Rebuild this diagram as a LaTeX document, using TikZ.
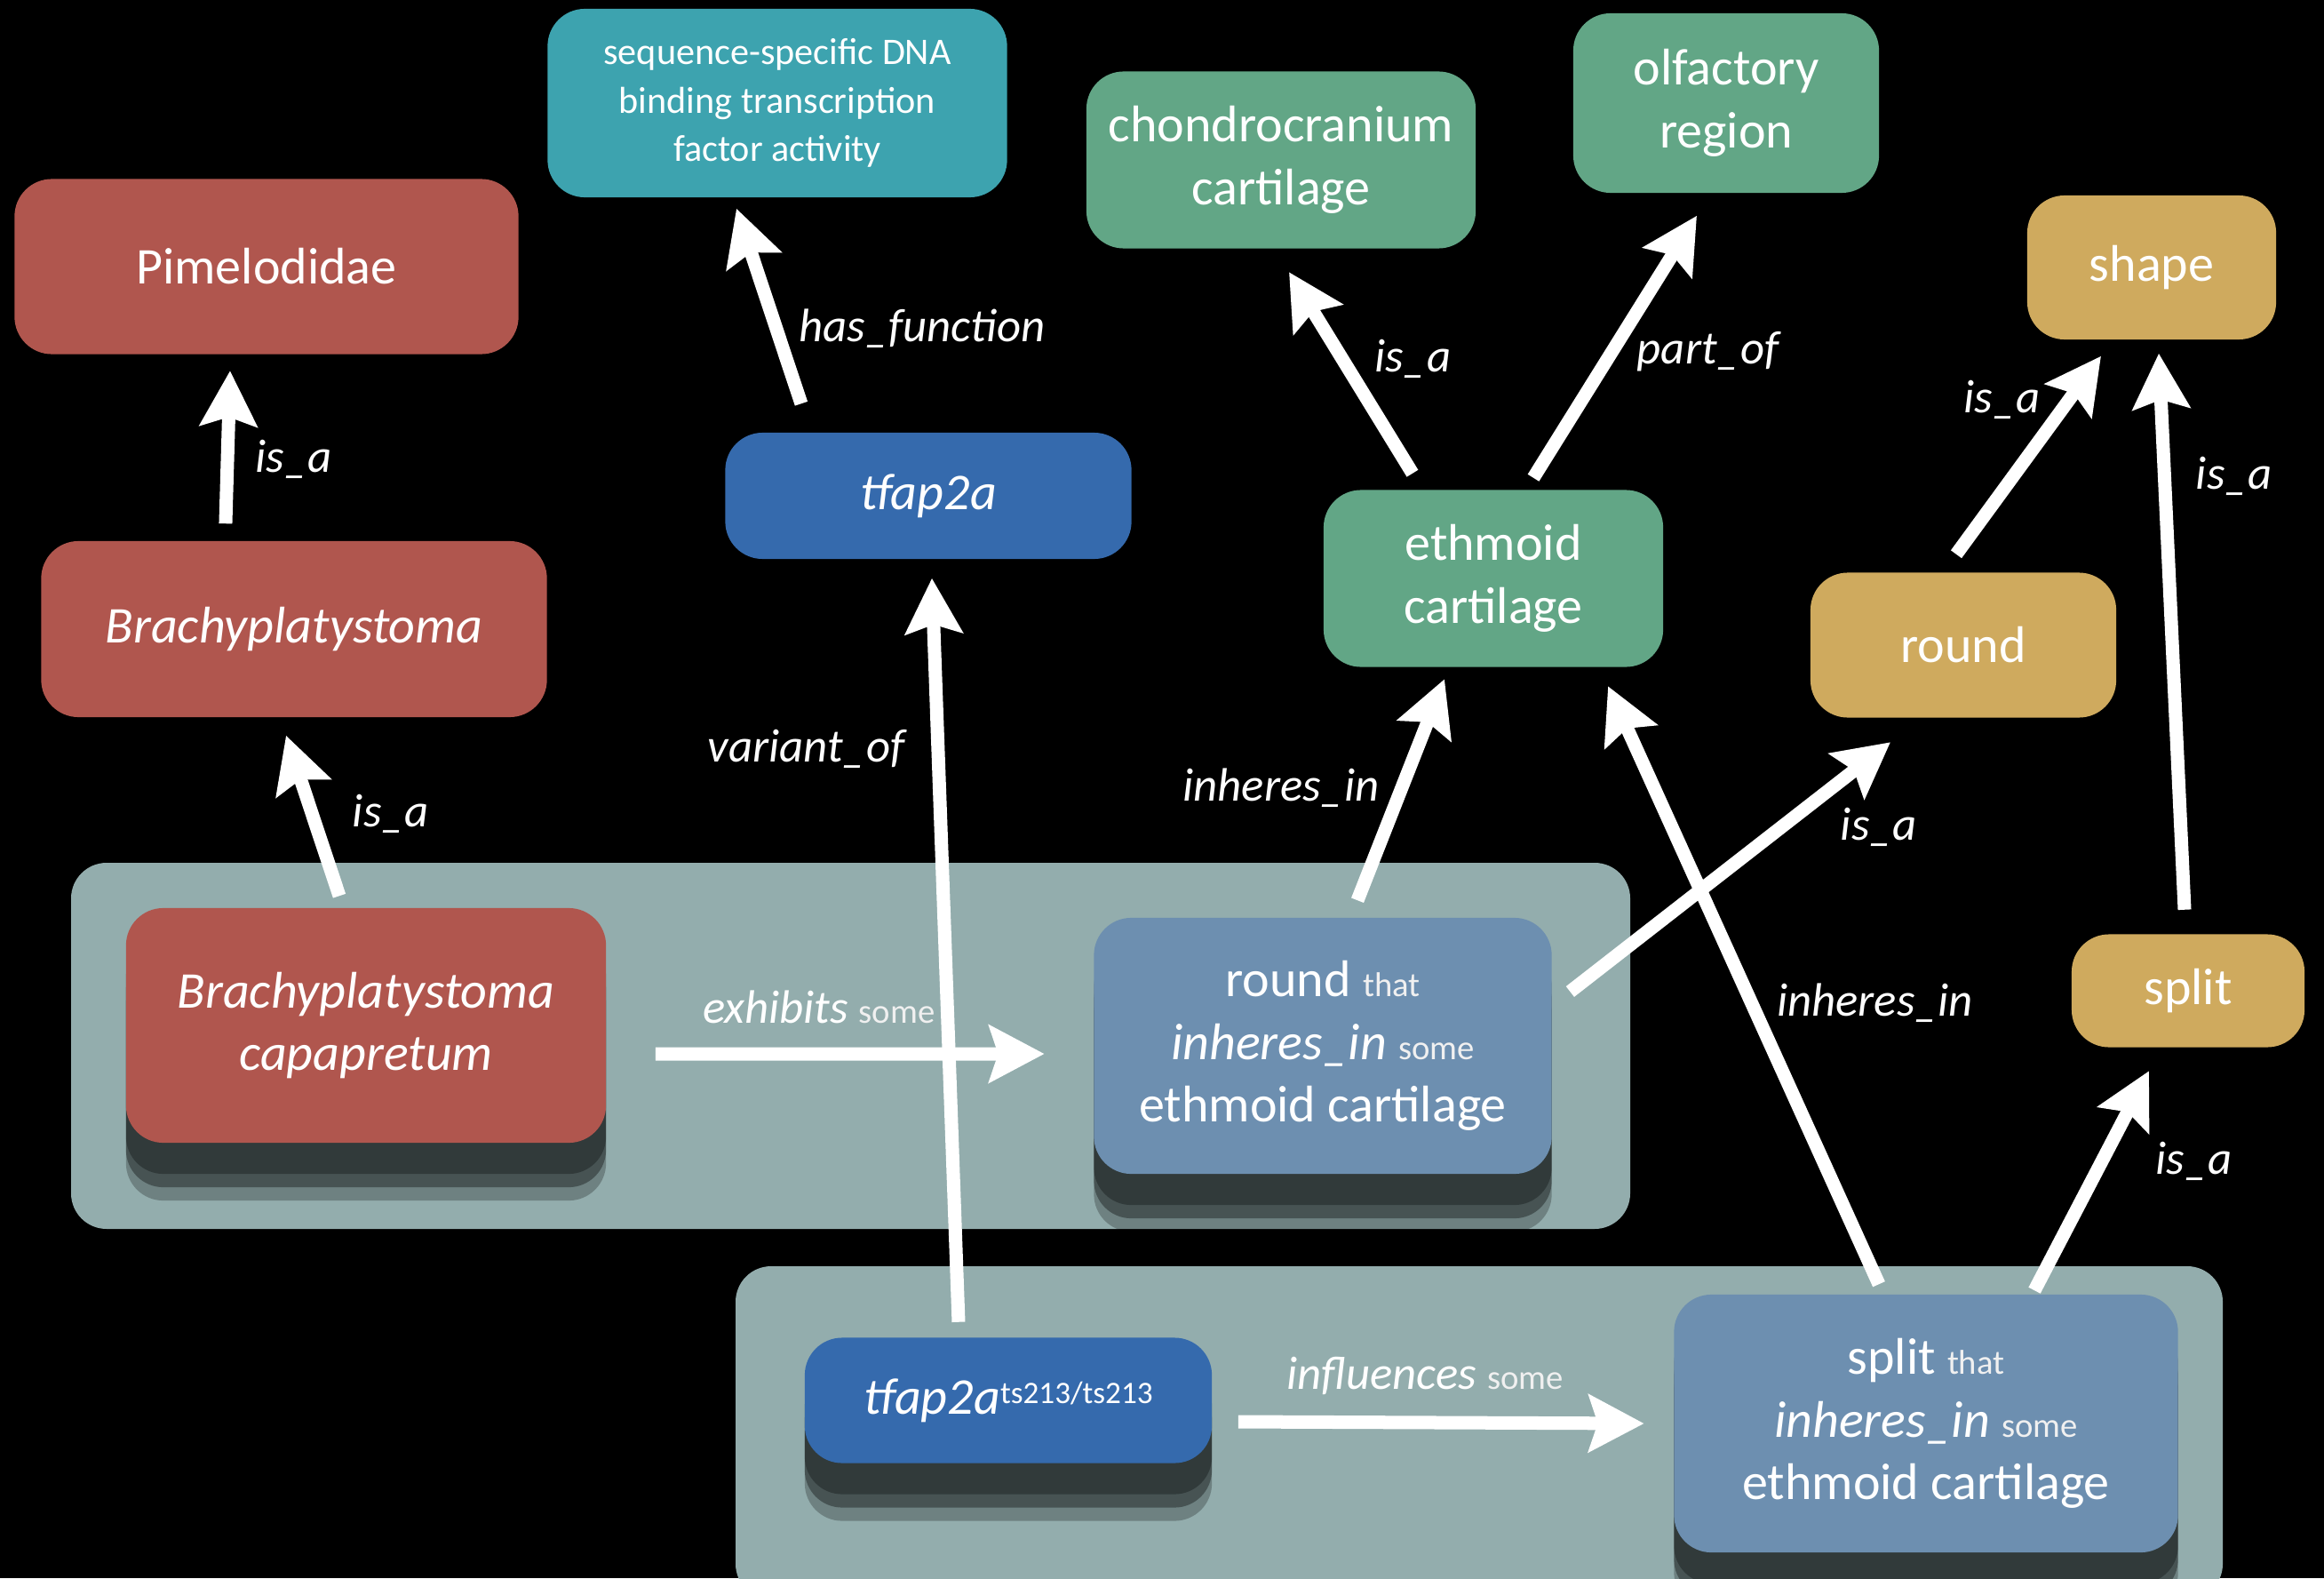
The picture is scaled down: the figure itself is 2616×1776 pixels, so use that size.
\documentclass[tikz,border=0pt]{standalone}
\usepackage{fontspec}
\setmainfont{Carlito}
\usetikzlibrary{arrows.meta}
\usetikzlibrary{shadows}

\definecolor{fishred}{HTML}{B0564E}
\definecolor{functeal}{HTML}{3DA3AF}
\definecolor{geneblue}{HTML}{356AAD}
\definecolor{anatgreen}{HTML}{62A686}
\definecolor{qualgold}{HTML}{CFAA5E}
\definecolor{phenoblue}{HTML}{6D8FB0}
\definecolor{panelgray}{HTML}{93ADAD}

\newcommand{\weakword}[1]{{\upshape\fontsize{11}{13}\selectfont\color{white!88!gray}#1}}

\tikzset{
  term/.style={rounded corners=.42cm, text=white, align=center, inner sep=2pt,
    font=\fontsize{16.5}{20}\selectfont,
    drop shadow={shadow xshift=0cm, shadow yshift=-.35cm, opacity=.3, fill=black},
    drop shadow={shadow xshift=0cm, shadow yshift=-.5cm, opacity=.35, fill=black},
    drop shadow={shadow xshift=0cm, shadow yshift=-.65cm, opacity=.25, fill=black}},
  fish/.style={term, fill=fishred},
  func/.style={term, fill=functeal},
  gene/.style={term, fill=geneblue},
  anat/.style={term, fill=anatgreen},
  qual/.style={term, fill=qualgold},
  pheno/.style={term, fill=phenoblue},
  rel/.style={white, line width=.15cm, ->, >={Stealth[length=.62cm, width=.64cm, inset=.1cm]}},
  lbl/.style={text=white, inner sep=0pt, font=\fontsize{15}{18}\selectfont\itshape},
}

\begin{document}
\begin{tikzpicture}[x=.01cm, y=-.01cm]
\useasboundingbox (0,0) rectangle (2616,1776);
\fill[black] (0,0) rectangle (2616,1776);
% the two grouped boxes
\fill[panelgray, rounded corners=.4cm] (80,971) rectangle (1835,1383);
\fill[panelgray, rounded corners=.4cm] (828,1425) rectangle (2502,1800);

\node[fish, minimum width=5.67cm, minimum height=1.97cm] (pim) at (300,300) {Pimelodidae};
\node[fish, minimum width=5.69cm, minimum height=1.98cm] (brachy) at (331,708) {\textit{Brachyplatystoma}};
\node[fish, minimum width=5.4cm, minimum height=2.64cm] (capa) at (412,1154) {\textit{Brachyplatystoma}\\\textit{capapretum}};
\node[func, minimum width=5.17cm, minimum height=2.12cm, font=\fontsize{12}{15.5}\selectfont] (seq) at (875,116) {sequence-specific DNA\\binding transcription\\factor activity};
\node[gene, minimum width=4.57cm, minimum height=1.42cm] (tfap) at (1045,558) {\textit{tfap2a}};
\node[anat, minimum width=4.38cm, minimum height=1.99cm] (chondro) at (1442,180) {chondrocranium\\cartilage};
\node[anat, minimum width=3.44cm, minimum height=2.02cm] (olf) at (1943,116) {olfactory\\region};
\node[anat, minimum width=3.82cm, minimum height=1.99cm] (ethm) at (1681,651) {ethmoid\\cartilage};
\node[qual, minimum width=2.8cm, minimum height=1.62cm] (shape) at (2422,301) {shape};
\node[qual, minimum width=3.44cm, minimum height=1.63cm] (round) at (2210,726) {round};
\node[qual, minimum width=2.62cm, minimum height=1.27cm] (split) at (2463,1115) {split};
\node[pheno, minimum width=5.15cm, minimum height=2.88cm] (rndeth) at (1489,1177) {round \weakword{that}\\\textit{inheres\_in} \weakword{some}\\ethmoid cartilage};
\node[gene, minimum width=4.58cm, minimum height=1.41cm] (tfapts) at (1135,1576) {\textit{tfap2a}\raisebox{.2em}{\fontsize{10}{12}\selectfont ts213/ts213}};
\node[pheno, minimum width=5.67cm, minimum height=2.9cm] (spleth) at (2168,1602) {split \weakword{that}\\\textit{inheres\_in} \weakword{some}\\ethmoid cartilage};

% relations
\draw[rel] ([xshift=-.3cm,yshift=.13cm]capa.north) -- ([xshift=-.09cm,yshift=-.2cm]brachy.south) node[lbl, pos=.51, right=.38cm] {is\_a};
\draw[rel] ([xshift=-.77cm,yshift=.19cm]brachy.north) -- ([xshift=-.41cm,yshift=-.18cm]pim.south) node[lbl, pos=.42, right=.24cm] {is\_a};
\draw[rel] ([xshift=-1.43cm,yshift=.32cm]tfap.north) -- ([xshift=-.46cm,yshift=-.12cm]seq.south) node[lbl, pos=.385, right=.18cm] {has\_function};
\draw[rel] ([xshift=.55cm,yshift=-.32cm]capa.east) -- ([xshift=-.55cm,yshift=-.09cm]rndeth.west) node[lbl, pos=.42, above=.27cm] {exhibits \weakword{some}};
\draw[rel] ([xshift=-.56cm,yshift=.17cm]tfapts.north) -- ([xshift=.04cm,yshift=-.21cm]tfap.south) node[lbl, pos=.77, left=.3cm] {variant\_of};
\draw[rel] ([xshift=.29cm,yshift=-.24cm]tfapts.east) -- ([xshift=-.33cm]spleth.west) node[lbl, pos=.46, above=.24cm] {influences \weakword{some}};
\draw[rel] ([xshift=.39cm,yshift=.19cm]rndeth.north) -- ([xshift=-.55cm,yshift=-.13cm]ethm.south) node[lbl, pos=.51, left=.18cm] {inheres\_in};
\draw[rel] ([xshift=-.91cm,yshift=.18cm]ethm.north) -- ([xshift=.09cm,yshift=-.26cm]chondro.south) node[lbl, pos=.57, right=.29cm] {is\_a};
\draw[rel] ([xshift=.45cm,yshift=.13cm]ethm.north) -- ([xshift=-.33cm,yshift=-.25cm]olf.south) node[lbl, pos=.48, right=.21cm] {part\_of};
\draw[rel] ([xshift=-.53cm,yshift=.11cm]spleth.north) -- ([xshift=1.29cm,yshift=-.21cm]ethm.south) node[lbl, pos=.47, right=.21cm] {inheres\_in};
\draw[rel] ([xshift=.2cm,yshift=.61cm]rndeth.east) -- ([xshift=-.82cm,yshift=-.27cm]round.south) node[lbl, pos=.66, right=.59cm] {is\_a};
\draw[rel] ([xshift=1.22cm,yshift=.04cm]spleth.north) -- ([xshift=-.44cm,yshift=-.26cm]split.south) node[lbl, pos=.59, right=.53cm] {is\_a};
\draw[rel] ([xshift=-.04cm,yshift=.27cm]split.north) -- ([xshift=.08cm,yshift=-.15cm]shape.south) node[lbl, pos=.78, right=.28cm] {is\_a};
\draw[rel] ([xshift=-.08cm,yshift=.2cm]round.north) -- ([xshift=-.57cm,yshift=-.18cm]shape.south) node[lbl, pos=.78, left=.25cm] {is\_a};
\end{tikzpicture}
\end{document}
